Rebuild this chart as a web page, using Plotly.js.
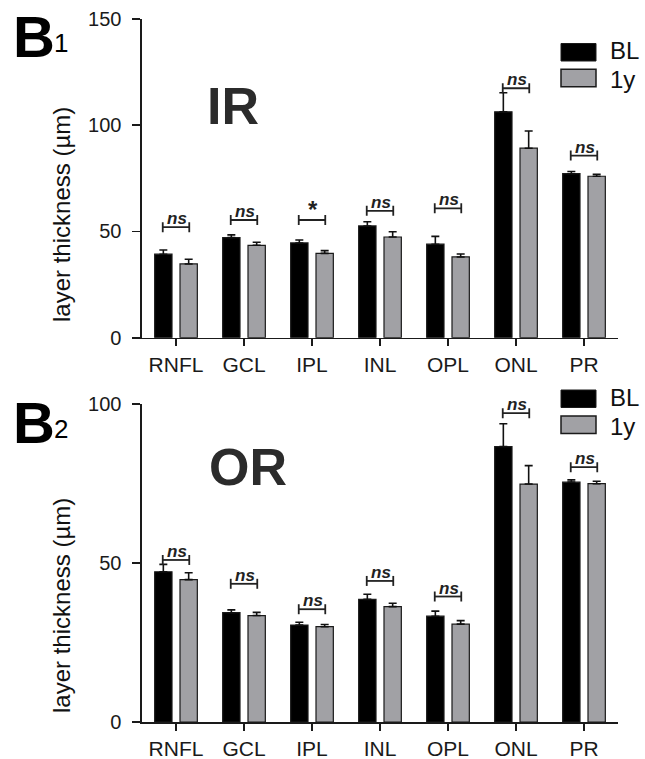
<!DOCTYPE html>
<html>
<head>
<meta charset="utf-8">
<script src="https://cdn.plot.ly/plotly-3.0.1.min.js"></script>
<style>html,body{margin:0;padding:0;background:#fff;}#chart{width:645px;height:759px;}</style>
</head>
<body>
<div id="chart"></div>
<script>
// ---- data ----
const categories = ['RNFL', 'GCL', 'IPL', 'INL', 'OPL', 'ONL', 'PR'];
const seriesNames = ['BL', '1y'];

const irBL      = [39.3, 47.1, 44.6, 52.6, 44.0, 106.3, 77.2];
const irBLerr   = [2.0, 1.3, 1.4, 2.0, 3.7, 9.0, 1.0];
const ir1y      = [34.7, 43.5, 39.7, 47.4, 38.0, 89.2, 76.0];
const ir1yErr   = [2.2, 1.4, 1.3, 2.5, 1.4, 8.1, 0.9];
const irSig     = ['ns', 'ns', '*', 'ns', 'ns', 'ns', 'ns'];
const irSigY    = [52.0, 55.4, 55.4, 59.7, 60.9, 117.4, 85.7];

const orBL      = [47.3, 34.4, 30.5, 38.6, 33.3, 86.7, 75.5];
const orBLerr   = [2.3, 0.9, 0.9, 1.6, 1.6, 7.2, 0.7];
const or1y      = [44.8, 33.5, 30.0, 36.3, 30.8, 74.9, 75.0];
const or1yErr   = [2.2, 1.0, 0.7, 1.1, 1.1, 5.8, 0.8];
const orSig     = ['ns', 'ns', 'ns', 'ns', 'ns', 'ns', 'ns'];
const orSigY    = [51.0, 43.5, 35.5, 44.4, 39.5, 97.2, 80.2];

const irTicks = [0, 50, 100, 150];
const orTicks = [0, 50, 100];
const yTitle = 'layer thickness (µm)';

// ---- layout helpers ----
const W = 645, H = 759, L = 142, R = 618, T = 19, B = 722;
const px = x => (x - L) / (R - L);
const py = y => (B - y) / (B - T);
const FONT = 'Arial, "Liberation Sans", Helvetica, sans-serif';
const BLACK = '#000000', GRAY = '#a1a1a5', EDGE = '#1a1a1a';
const xIdx = categories.map((c, i) => i);

function barTrace(vals, errs, color, xa, ya, name) {
  return {
    type: 'bar', x: xIdx, y: vals, name: name, xaxis: xa, yaxis: ya,
    marker: {color: color, line: {color: EDGE, width: 1.2}},
    error_y: {type: 'data', array: errs, arrayminus: errs.map(() => 0), symmetric: false,
              color: '#111', thickness: 1.6, width: 4},
    showlegend: false, hoverinfo: 'skip'
  };
}

const data = [
  barTrace(irBL, irBLerr, BLACK, 'x', 'y', seriesNames[0]),
  barTrace(ir1y, ir1yErr, GRAY, 'x', 'y', seriesNames[1]),
  barTrace(orBL, orBLerr, BLACK, 'x2', 'y2', seriesNames[0]),
  barTrace(or1y, or1yErr, GRAY, 'x2', 'y2', seriesNames[1])
];

const shapes = [];
const annotations = [];
const HALF = 0.195;
function addSig(labels, ys, xref, yref) {
  labels.forEach((lab, i) => {
    const yv = ys[i];
    shapes.push({type: 'line', xref: xref, yref: yref, x0: i - HALF, x1: i + HALF, y0: yv, y1: yv,
                 line: {color: '#222', width: 1.8}});
    [i - HALF, i + HALF].forEach(xx => shapes.push({
      type: 'line', xref: xref, yref: yref, x0: xx, x1: xx,
      ysizemode: 'pixel', yanchor: yv, y0: -5, y1: 5, line: {color: '#222', width: 1.8}}));
    if (lab === '*') {
      annotations.push({xref: xref, yref: yref, x: i + 0.01, y: yv, xanchor: 'center', yanchor: 'bottom',
        text: '<b>*</b>', showarrow: false, yshift: -5, font: {family: FONT, size: 24, color: '#222'}});
    } else {
      annotations.push({xref: xref, yref: yref, x: i + 0.02, y: yv, xanchor: 'center', yanchor: 'bottom',
        text: '<b><i>' + lab + '</i></b>', showarrow: false, yshift: -3, font: {family: FONT, size: 17, color: '#222'}});
    }
  });
}
addSig(irSig, irSigY, 'x', 'y');
addSig(orSig, orSigY, 'x2', 'y2');

// manual legend boxes + labels
function addLegend(topBlack, topGray) {
  shapes.push({type: 'rect', xref: 'paper', yref: 'paper', x0: px(561), x1: px(596), y0: py(topBlack), y1: py(topBlack + 17.5),
               fillcolor: BLACK, line: {color: EDGE, width: 1}});
  shapes.push({type: 'rect', xref: 'paper', yref: 'paper', x0: px(561), x1: px(596), y0: py(topGray), y1: py(topGray + 17.5),
               fillcolor: GRAY, line: {color: EDGE, width: 1.5}});
  annotations.push({xref: 'paper', yref: 'paper', x: px(609), y: py(topBlack + 7.5), xanchor: 'left', yanchor: 'middle',
    text: seriesNames[0], showarrow: false, borderpad: 0, font: {family: FONT, size: 24, color: '#111'}});
  annotations.push({xref: 'paper', yref: 'paper', x: px(609), y: py(topGray + 10.5), xanchor: 'left', yanchor: 'middle',
    text: seriesNames[1], showarrow: false, borderpad: 0, font: {family: FONT, size: 24, color: '#111'}});
}
addLegend(43.5, 69.3);
addLegend(390, 416);

// panel labels, region labels, y titles
function addPanel(sub, cy, region, rcx, rcy, tcy) {
  annotations.push({xref: 'paper', yref: 'paper', x: px(11), y: py(cy), xanchor: 'left', yanchor: 'middle',
    text: '<b>B</b>', showarrow: false, font: {family: FONT, size: 58, color: '#000'}});
  annotations.push({xref: 'paper', yref: 'paper', x: px(52), y: py(cy + 7), xanchor: 'left', yanchor: 'middle',
    text: sub, showarrow: false, font: {family: FONT, size: 26, color: '#000'}});
  annotations.push({xref: 'paper', yref: 'paper', x: px(rcx), y: py(rcy), xanchor: 'center', yanchor: 'middle',
    text: '<b>' + region + '</b>', showarrow: false, font: {family: FONT, size: 52, color: '#2b2b2b'}});
  annotations.push({xref: 'paper', yref: 'paper', x: px(61), y: py(tcy), xanchor: 'center', yanchor: 'middle',
    text: yTitle, textangle: -90, showarrow: false, font: {family: FONT, size: 24, color: '#111'}});
}
addPanel('1', 36, 'IR', 233, 106, 215);
addPanel('2', 422, 'OR', 248, 467, 606);

function xAxis(anchor) {
  return {
    anchor: anchor, domain: [0, 1], range: [-0.5, 6.5], tickmode: 'array', tickvals: xIdx, ticktext: categories,
    showline: true, linecolor: '#1a1a1a', linewidth: 1.6, ticks: 'outside', ticklen: 7, tickwidth: 1.6,
    tickcolor: '#1a1a1a', showgrid: false, zeroline: false, fixedrange: true,
    tickfont: {family: FONT, size: 21, color: '#1a1a1a'}
  };
}
function yAxis(anchor, domain, rng, tv) {
  return {
    anchor: anchor, domain: domain, range: rng, tickmode: 'array', tickvals: tv,
    showline: true, linecolor: '#1a1a1a', linewidth: 1.6, ticks: 'outside', ticklen: 8, tickwidth: 1.6,
    tickcolor: '#1a1a1a', showgrid: false, zeroline: false, fixedrange: true, ticklabelstandoff: 7,
    tickfont: {family: FONT, size: 20, color: '#1a1a1a'}
  };
}

const layout = {
  width: W, height: H,
  margin: {l: L, r: W - R, t: T, b: H - B, pad: 0},
  paper_bgcolor: '#fff', plot_bgcolor: '#fff',
  barmode: 'group', bargap: 0.255, bargroupgap: 0.316,
  showlegend: false,
  xaxis: xAxis('y'),
  yaxis: yAxis('x', [py(337.7), 1], [0, 150], irTicks),
  xaxis2: xAxis('y2'),
  yaxis2: yAxis('x2', [0, py(404.3)], [0, 100], orTicks),
  shapes: shapes,
  annotations: annotations
};

Plotly.newPlot('chart', data, layout, {displayModeBar: false, staticPlot: true});
</script>
</body>
</html>
